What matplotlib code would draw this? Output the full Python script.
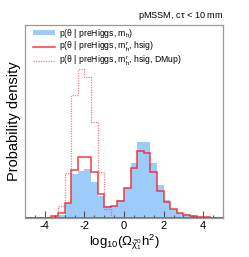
import numpy as np
import matplotlib
matplotlib.use("Agg")
import matplotlib.pyplot as plt
from matplotlib.ticker import MultipleLocator

plt.rcParams['font.family'] = ['Liberation Sans', 'DejaVu Sans']
plt.rcParams['mathtext.fontset'] = 'custom'
plt.rcParams['mathtext.rm'] = 'Liberation Sans'
plt.rcParams['mathtext.it'] = 'Liberation Sans:italic'
plt.rcParams['mathtext.default'] = 'regular'

# --- datos: 30 bins entre -5 y 5 (alturas, sin normalizar) ---
edges = np.linspace(-5, 5, 31)
h_mh = [0, 0, 0, 0, 0.5, 3, 14.7, 44, 47.5, 48.5, 36.3, 22, 12, 12, 18,
        30, 55, 76, 76, 54.7, 33, 18, 9.5, 5.5, 3.5, 2, 1.3, 0.5, 0, 0]
h_hsig = [0, 0, 0, 0, 1.5, 4.7, 15.3, 48, 61, 61, 45.5, 23.5, 10.5, 12, 17.3,
          29.7, 49.7, 66.3, 64.7, 45.3, 27.3, 16.3, 8.7, 4.7, 3, 2, 1, 0.5, 0, 0]
h_dmup = [0, 0, 0, 0, 1.5, 12, 45, 123, 148.7, 140.7, 96.3, 46.3, 9, 0, 0,
          0, 0, 0, 0, 0, 0, 0, 0, 0, 0, 0, 0, 0, 0, 0]

labels = [r"p($\theta$ | preHiggs, m$_{h}$)",
          r"p($\theta$ | preHiggs, m$_{h}^{r}$, hsig)",
          r"p($\theta$ | preHiggs, m$_{h}^{r}$, hsig, DMup)"]

def density(h):
    h = np.asarray(h, dtype=float)
    return h / (h.sum() * np.diff(edges))

fig = plt.figure(figsize=(2.49, 2.57), dpi=100)
ax = fig.add_axes([25 / 249, 39 / 257, 198 / 249, 193 / 257])

ax.stairs(density(h_mh), edges, fill=True, color='#9dcbfa', label=labels[0])
ax.stairs(density(h_hsig), edges, color='#f0282d', lw=1.1, alpha=0.9,
          baseline=None, label=labels[1])
ax.stairs(density(h_dmup), edges, color='#f55a5f', lw=0.9, ls=(0, (1, 1)),
          alpha=0.8, baseline=None, label=labels[2])
ax.axhline(0, color='#f0282d', lw=1.2)

ax.set_xlim(-5, 5)
ax.set_ylim(0, 193 * 3 / 623.5)
ax.xaxis.set_major_locator(MultipleLocator(2))
ax.xaxis.set_minor_locator(MultipleLocator(0.5))
ax.xaxis.set_major_formatter(plt.FuncFormatter(lambda v, p: f"{v:g}"))
ax.set_yticks([])
ax.tick_params(axis='x', which='major', direction='in', length=5, width=0.8,
               color='#555555', labelsize=8, pad=2)
ax.tick_params(axis='x', which='minor', direction='in', length=2.5, width=0.8,
               color='#555555')
for s in ax.spines.values():
    s.set_color('#999999')
    s.set_linewidth(0.9)

ax.set_ylabel("Probability density", fontsize=10.5, labelpad=3)
ax.set_xlabel(r"log$_{10}$($\Omega_{\tilde{\chi}^0_1}$h$^2$)", fontsize=9.5,
              labelpad=1)
ax.text(1.0, 1.015, r"pMSSM, c$\tau$ < 10 mm", transform=ax.transAxes,
        ha='right', va='bottom', fontsize=6.6)

ax.legend(loc='upper left', bbox_to_anchor=(0.03, 1.0), frameon=False,
          fontsize=6.2, handlelength=2.6, handleheight=0.5, labelspacing=0.0,
          handletextpad=0.5, borderaxespad=0.1, borderpad=0.1)

fig.savefig("out.png", dpi=100)
